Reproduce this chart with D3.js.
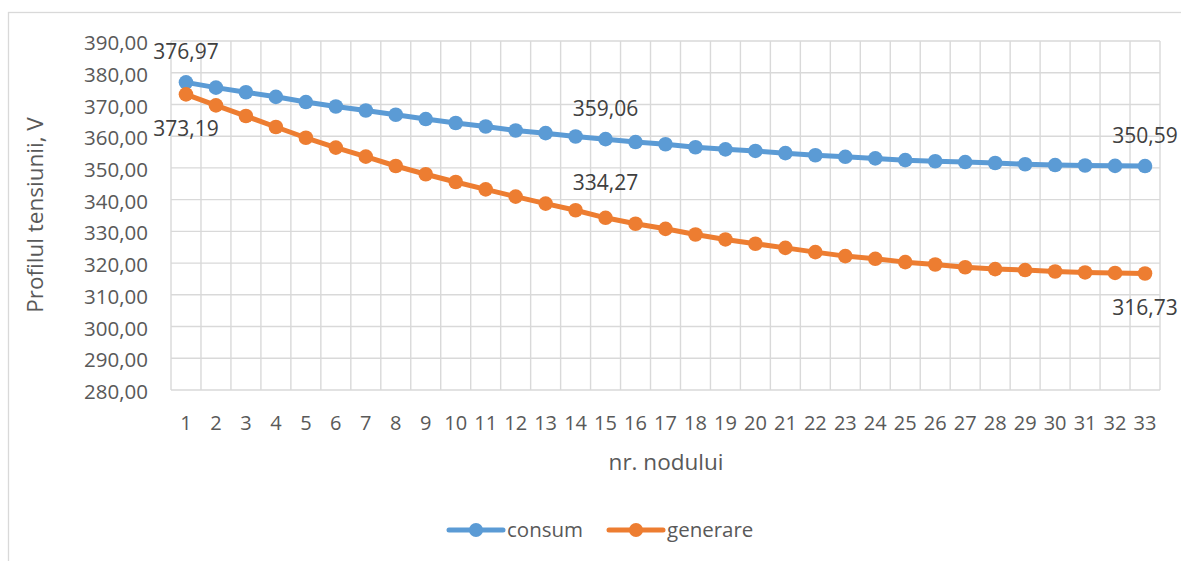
<!DOCTYPE html>
<html>
<head>
<meta charset="utf-8">
<script src="https://cdn.jsdelivr.net/npm/d3@7"></script>
<style>
  html, body { margin: 0; padding: 0; background: #ffffff; }
  svg { display: block; font-family: "Open Sans", "Noto Sans", sans-serif; }
</style>
</head>
<body>
<svg id="chart" width="1181" height="561"></svg>
<script>
const categories = d3.range(1, 34);
const consum = [376.97, 375.3, 373.85, 372.4, 370.75, 369.35, 368.1, 366.75, 365.4, 364.15,
  363.05, 361.8, 360.95, 359.9, 359.06, 358.15, 357.45, 356.5, 355.85, 355.35,
  354.65, 354.0, 353.5, 353.0, 352.45, 352.1, 351.85, 351.55, 351.15, 350.9,
  350.75, 350.65, 350.59];
const generare = [373.19, 369.7, 366.35, 362.9, 359.5, 356.4, 353.55, 350.6, 348.0, 345.55,
  343.25, 340.95, 338.75, 336.65, 334.27, 332.4, 330.8, 329.0, 327.45, 326.1,
  324.8, 323.45, 322.2, 321.35, 320.3, 319.55, 318.7, 318.1, 317.8, 317.35,
  317.05, 316.9, 316.73];
const yTicks = [280, 290, 300, 310, 320, 330, 340, 350, 360, 370, 380, 390];
const seriesNames = ["consum", "generare"];
const labelIdx = [0, 14, 32];

const colors = ["#5B9BD5", "#ED7D31"];
const svg = d3.select("#chart");
const fmt = v => v.toFixed(2).replace(".", ",");

// chart border
svg.append("rect").attr("x", 8.5).attr("y", 12.5).attr("width", 1200).attr("height", 600)
  .attr("fill", "none").attr("stroke", "#d9d9d9").attr("stroke-width", 1.3);

const x = d3.scaleBand().domain(categories).range([171, 1160]).padding(0);
const y = d3.scaleLinear().domain([280, 390]).range([390, 41]);
const cx = d => x(d) + x.bandwidth() / 2;

const grid = svg.append("g").attr("stroke", "#d9d9d9").attr("stroke-width", 1.4);
yTicks.forEach(t => {
  grid.append("line").attr("x1", 171).attr("x2", 1160).attr("y1", y(t)).attr("y2", y(t));
});
categories.forEach(c => {
  grid.append("line").attr("x1", x(c)).attr("x2", x(c)).attr("y1", y(390)).attr("y2", y(280));
});
grid.append("line").attr("x1", 1160).attr("x2", 1160).attr("y1", y(390)).attr("y2", y(280));

// y axis labels
const yAxis = d3.axisLeft(y).tickValues(yTicks).tickFormat(fmt).tickSize(0).tickPadding(0);
const gy = svg.append("g").attr("transform", "translate(148,0)").call(yAxis);
gy.select(".domain").remove();
gy.selectAll("text").attr("font-size", 20.5).attr("fill", "#595959")
  .attr("font-family", "Open Sans").attr("dy", "0.42em");

// x axis labels
const xAxis = d3.axisBottom(x).tickSize(0).tickPadding(0);
const gx = svg.append("g").attr("transform", "translate(0,390)").call(xAxis);
gx.select(".domain").remove();
gx.selectAll("text").attr("font-size", 20).attr("fill", "#595959")
  .attr("font-family", "Open Sans").attr("dy", null).attr("y", 40);

// axis titles
svg.append("text").attr("x", 666).attr("y", 470).attr("text-anchor", "middle")
  .attr("font-size", 22.5).attr("fill", "#595959").text("nr. nodului");
svg.append("text").attr("transform", "translate(43,215) rotate(-90)")
  .attr("text-anchor", "middle").attr("font-size", 22.5).attr("fill", "#595959")
  .text("Profilul tensiunii, V");

// series
const all = [consum, generare];
const line = d3.line().x((d, i) => cx(categories[i])).y(d => y(d));
all.forEach((s, k) => {
  svg.append("path").datum(s).attr("d", line).attr("fill", "none")
    .attr("stroke", colors[k]).attr("stroke-width", 5).attr("stroke-linejoin", "round")
    .attr("stroke-linecap", "round");
  svg.append("g").selectAll("circle").data(s).join("circle")
    .attr("cx", (d, i) => cx(categories[i])).attr("cy", d => y(d)).attr("r", 7.3)
    .attr("fill", colors[k]);
});

// data labels
labelIdx.forEach(i => {
  svg.append("text").attr("x", cx(categories[i])).attr("y", y(consum[i]) - 31)
    .attr("dy", "0.36em").attr("text-anchor", "middle").attr("font-size", 21)
    .attr("fill", "#404040").text(fmt(consum[i]));
});
labelIdx.forEach(i => {
  const below = i !== 14;
  svg.append("text").attr("x", cx(categories[i]))
    .attr("y", below ? y(generare[i]) + 34 : y(generare[i]) - 35)
    .attr("dy", "0.36em").attr("text-anchor", "middle").attr("font-size", 21)
    .attr("fill", "#404040").text(fmt(generare[i]));
});

// legend
const legX = [449, 609];
seriesNames.forEach((n, k) => {
  const g = svg.append("g").attr("transform", `translate(${legX[k]},530)`);
  g.append("line").attr("x1", 0).attr("x2", 54).attr("y1", 0).attr("y2", 0)
    .attr("stroke", colors[k]).attr("stroke-width", 5).attr("stroke-linecap", "round");
  g.append("circle").attr("cx", 27).attr("cy", 0).attr("r", 7).attr("fill", colors[k]);
  g.append("text").attr("x", 58).attr("y", 0).attr("dy", "0.36em")
    .attr("font-size", 20.5).attr("fill", "#595959").text(n);
});
</script>
</body>
</html>
